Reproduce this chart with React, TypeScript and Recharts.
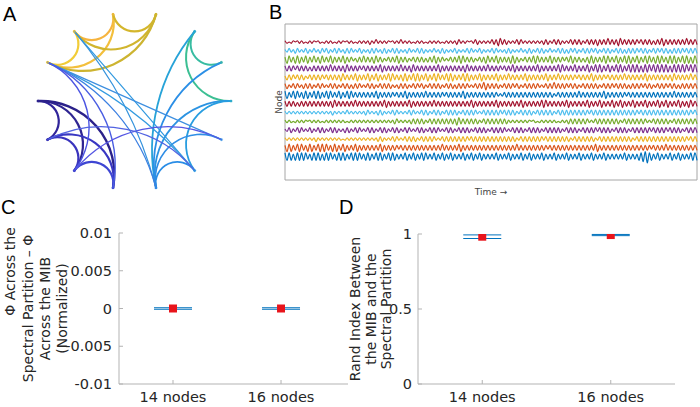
import {
  ScatterChart,
  Scatter,
  LineChart,
  Line,
  XAxis,
  YAxis,
  ZAxis,
  ErrorBar,
  ReferenceArea,
  Label,
} from "recharts";

const TEXT_FONT = "'DejaVu Sans', sans-serif";
const LETTER_FONT = "'Liberation Sans', Arial, sans-serif";

// ---- Panel A: circular graph (nodes numbered clockwise from the top) ----
const NODE_COLORS = [
  "#f5b942", "#d2b72d", "#22a5d5", "#3dbd9a", "#2db2bf", "#2f93e3", "#279ee0",
  "#2b88e8", "#3e52da", "#3c42d0", "#3632b3", "#2f2490", "#f4d23a", "#f5c43b",
];

// [from, to, color, width]
const EDGES: [number, number, string, number][] = [
  [12, 13, "#f1cc38", 2.2], [13, 0, "#f6b43f", 2.2], [12, 0, "#f3bf3c", 2.2],
  [0, 1, "#d4b62c", 2.2], [13, 1, "#d1b52e", 2.2], [12, 1, "#cdb430", 2.2],
  [11, 10, "#30249a", 2.2], [11, 9, "#2f2592", 2.2], [11, 8, "#2b218a", 2.4],
  [10, 9, "#3a34bd", 2.2], [10, 8, "#3937c2", 2.2], [9, 8, "#3e46d3", 2.2],
  [2, 3, "#38bca2", 2], [2, 4, "#3cbf93", 2], [2, 7, "#27a3d8", 1.8],
  [3, 7, "#2b8fe6", 1.8], [4, 7, "#2b93e2", 1.8], [4, 6, "#289de0", 1.8],
  [5, 7, "#2f8ee6", 1.6], [6, 7, "#2a8de6", 1.8],
  [13, 6, "#3199e0", 1.2], [13, 7, "#3593dd", 1.2], [12, 6, "#339ae0", 1.2],
  [12, 5, "#3d8fe0", 1.2], [12, 7, "#3c80e2", 1.2], [12, 9, "#4b54e2", 1.4],
  [12, 8, "#4a5de2", 1.4], [9, 5, "#5556e3", 1.2], [10, 6, "#5263e2", 1.2],
];

// ---- Panel B: node time series, top trace (node 14) to bottom (node 1) ----
const node14 = [
  1,-1,0,-1,1,0,1,-1,1,-1,0,-1,1,-1,1,0,1,-1,0,-1,
  1,-1,1,-1,0,-1,1,-1,1,0,1,-1,1,-1,0,-1,1,-1,1,-1,
  1,-2,1,-1,2,-1,1,-1,1,-1,1,0,1,-1,1,-1,2,-1,1,-1,
  1,-1,0,-1,1,-1,1,-1,0,-1,1,-1,1,-1,1,-1,0,-1,1,-1,
  1,-1,1,-2,2,-1,1,-1,1,0,1,-1,2,-2,1,-1,1,-1,1,-1,
  2,-2,2,-3,3,-2,2,-2,1,-1,1,-1,2,-2,2,-1,1,-1,1,-1,
  1,-1,1,-1,1,-2,2,-2,1,-1,2,-2,2,-2,1,-1,1,-1,2,-2,
  2,-2,2,-2,1,-1,2,-2,2,-2,2,-3,2,-2,2,-2,3,-2,2,-2,
  2,-3,3,-2,2,-2,2,-2,2,-2,2,-1,2,-2,2,-2,2,-2,1,-2,
  2,-2,3,-3,2,-2,2,-2,2,-2,2,-2,2,-2,3,-2,2,-2,2,-2,
];
const node13 = [
  1,-1,2,-1,1,-2,2,-1,1,-1,2,-2,1,-1,2,-1,1,-2,2,-1,
  2,-2,1,-1,2,-2,2,-1,1,-2,2,-2,2,-1,1,-1,2,-2,1,-1,
  1,-2,2,-2,2,-1,1,-2,2,-2,1,-1,2,-2,2,-2,1,-1,1,-2,
  2,-1,1,-1,2,-2,2,-2,1,-1,1,-1,2,-1,1,-2,2,-2,1,-1,
  1,-1,2,-2,1,-1,1,-1,2,-2,2,-1,1,-1,2,-2,1,-1,1,-1,
  2,-2,2,-1,1,-1,1,-2,2,-2,1,-1,1,-1,2,-1,1,-2,2,-2,
  1,-1,2,-2,2,-2,1,-1,2,-1,1,-1,2,-2,2,-2,1,-2,2,-1,
  2,-2,1,-1,2,-2,2,-2,2,-1,2,-2,1,-1,2,-2,2,-2,1,-1,
  2,-2,2,-2,1,-2,2,-2,2,-2,2,-1,2,-2,2,-2,1,-1,2,-2,
  2,-1,2,-2,2,-2,1,-2,2,-2,2,-2,2,-1,2,-2,2,-2,2,-2,
];
const node12 = [
  2,-3,3,-2,2,-3,3,-3,2,-2,3,-3,2,-2,3,-2,2,-3,3,-2,
  2,-2,3,-3,2,-2,2,-2,3,-3,2,-2,2,-1,1,-2,2,-2,3,-2,
  2,-2,2,-3,3,-2,2,-2,1,-1,2,-2,2,-2,3,-3,2,-2,2,-2,
  1,-1,2,-2,2,-2,2,-2,1,-2,2,-2,3,-3,2,-2,2,-1,1,-1,
  2,-2,2,-2,3,-3,3,-2,2,-2,2,-2,1,-1,2,-2,2,-3,3,-2,
  2,-2,3,-3,2,-2,2,-2,2,-3,3,-3,2,-2,1,-1,2,-2,2,-2,
  3,-3,3,-2,2,-2,2,-2,3,-3,2,-2,2,-2,2,-1,2,-2,3,-3,
  2,-2,2,-2,1,-2,2,-3,3,-3,2,-2,2,-2,3,-3,3,-2,2,-2,
  3,-3,2,-2,3,-3,3,-3,2,-2,3,-3,2,-2,3,-3,3,-2,2,-3,
  3,-3,3,-2,2,-3,3,-3,3,-3,2,-2,3,-3,3,-3,2,-3,3,-3,
];
const node11 = [
  2,-2,2,-2,2,-1,2,-2,2,-2,2,-2,1,-2,2,-2,2,-2,2,-2,
  2,-2,3,-2,2,-2,2,-2,2,-3,3,-2,2,-2,2,-2,2,-1,2,-2,
  2,-2,2,-2,2,-2,3,-3,2,-2,2,-2,2,-2,2,-2,3,-2,2,-2,
  2,-3,3,-2,2,-2,2,-2,2,-2,2,-2,2,-2,3,-3,2,-2,2,-2,
  2,-2,2,-2,2,-2,2,-3,3,-2,2,-2,2,-2,2,-2,2,-2,3,-2,
  2,-2,2,-2,2,-1,2,-2,2,-2,3,-3,2,-2,2,-2,2,-2,2,-2,
  2,-2,3,-3,2,-2,2,-2,2,-2,2,-2,3,-3,3,-2,2,-2,2,-2,
  3,-3,2,-2,2,-2,3,-3,2,-2,3,-3,3,-3,2,-2,3,-3,2,-2,
  3,-3,3,-3,2,-2,3,-3,3,-3,3,-3,2,-3,3,-3,3,-2,3,-3,
  3,-3,3,-3,3,-3,2,-3,3,-3,3,-3,3,-3,3,-2,3,-3,3,-3,
];
const node10 = [
  1,-2,2,-2,2,-1,2,-2,2,-2,1,-1,2,-2,2,-2,2,-2,2,-1,
  2,-2,2,-2,2,-2,2,-3,3,-2,2,-2,2,-2,3,-3,2,-2,2,-2,
  3,-3,2,-2,3,-3,2,-2,2,-2,3,-3,3,-2,2,-2,2,-3,3,-3,
  2,-2,3,-3,3,-3,2,-2,3,-3,2,-2,3,-3,3,-2,2,-2,3,-3,
  3,-3,2,-2,2,-2,3,-3,3,-3,2,-2,2,-2,3,-3,2,-2,2,-2,
  2,-2,3,-3,2,-2,2,-2,3,-2,2,-2,2,-2,2,-2,3,-3,2,-2,
  2,-2,2,-2,2,-2,3,-3,2,-2,2,-2,3,-2,2,-2,2,-2,2,-2,
  2,-1,2,-2,2,-2,2,-2,3,-3,2,-2,2,-2,2,-1,2,-2,2,-2,
  2,-2,2,-2,3,-2,2,-2,2,-2,2,-2,2,-2,3,-3,2,-2,2,-2,
  2,-2,2,-2,2,-2,2,-3,3,-2,2,-2,2,-2,2,-2,3,-2,2,-2,
];
const node9 = [
  2,-2,1,-1,2,-2,2,-1,1,-2,2,-2,2,-2,1,-1,2,-2,2,-1,
  1,-1,2,-2,2,-2,1,-1,2,-2,2,-2,1,-2,2,-2,2,-1,1,-1,
  2,-2,2,-2,1,-1,2,-2,2,-2,2,-2,1,-1,1,-2,2,-2,2,-2,
  1,-1,2,-2,2,-1,2,-2,1,-1,2,-2,2,-2,2,-2,1,-1,2,-2,
  2,-2,1,-2,2,-2,2,-2,2,-1,1,-1,2,-2,2,-2,3,-3,2,-2,
  2,-2,2,-2,1,-1,2,-2,2,-2,2,-1,2,-2,1,-1,2,-2,2,-2,
  2,-2,2,-1,1,-1,2,-2,2,-2,3,-2,2,-2,2,-2,2,-1,2,-2,
  2,-2,1,-1,2,-2,2,-2,2,-2,2,-2,1,-1,2,-2,2,-2,2,-1,
  2,-2,2,-2,2,-2,1,-2,2,-2,2,-2,2,-1,2,-2,2,-2,1,-1,
  2,-2,2,-2,2,-1,2,-2,2,-2,1,-2,2,-2,2,-2,2,-2,2,-2,
];
const node8 = [
  3,-3,2,-2,3,-3,3,-2,2,-3,3,-3,2,-2,3,-3,3,-3,2,-2,
  3,-3,3,-2,2,-2,3,-3,2,-2,3,-3,3,-2,2,-2,2,-2,2,-2,
  2,-2,2,-2,3,-3,2,-2,2,-2,2,-2,2,-1,2,-2,2,-2,3,-3,
  2,-2,2,-2,2,-2,2,-2,3,-2,2,-2,2,-2,2,-2,2,-1,2,-2,
  2,-2,2,-2,2,-2,3,-3,2,-2,2,-2,2,-2,2,-2,2,-2,2,-2,
  2,-2,2,-1,1,-1,2,-2,2,-2,2,-2,2,-2,2,-2,2,-2,2,-2,
  2,-2,2,-2,2,-2,2,-2,2,-2,1,-1,2,-2,2,-2,2,-2,2,-2,
  2,-2,3,-2,2,-2,2,-2,2,-2,2,-2,2,-2,3,-3,2,-2,2,-2,
  2,-2,2,-2,2,-1,2,-2,2,-2,2,-2,2,-2,2,-2,2,-2,2,-2,
  2,-2,2,-2,2,-2,2,-2,3,-2,2,-2,2,-2,2,-2,2,-2,2,-2,
];
const node7 = [
  2,-2,2,-2,2,-2,1,-2,2,-2,2,-2,2,-2,2,-2,2,-2,2,-2,
  2,-2,2,-3,3,-2,2,-2,2,-2,2,-2,2,-2,3,-2,2,-2,2,-2,
  2,-2,2,-2,2,-2,2,-2,3,-3,2,-2,2,-2,2,-2,2,-2,2,-2,
  3,-3,2,-2,2,-2,2,-2,2,-2,2,-2,3,-2,2,-2,2,-2,2,-2,
  2,-2,2,-2,2,-2,2,-2,2,-2,3,-3,2,-2,2,-2,2,-2,2,-2,
  2,-2,3,-3,2,-2,2,-2,2,-2,2,-2,2,-2,3,-3,2,-2,2,-2,
  2,-2,2,-2,3,-3,3,-2,2,-2,2,-2,2,-2,2,-2,3,-3,2,-2,
  2,-2,2,-2,2,-2,3,-3,2,-2,2,-2,3,-3,2,-2,2,-2,3,-3,
  2,-2,3,-3,2,-2,2,-2,3,-3,2,-2,2,-2,3,-3,2,-2,2,-2,
  3,-3,2,-2,3,-3,2,-2,2,-2,3,-3,2,-2,2,-3,3,-2,2,-2,
];
const node6 = [
  1,-1,1,-1,1,-1,1,-1,1,-1,1,-1,1,-1,1,-1,1,-1,1,-1,
  1,-1,1,-2,1,-1,1,-1,1,-1,2,-1,1,-1,1,-1,1,-1,1,-2,
  2,-1,1,-1,1,-2,2,-2,1,-1,1,-1,2,-2,2,-1,1,-1,1,-1,
  2,-2,2,-1,1,-1,2,-2,2,-2,1,-1,2,-2,2,-2,1,-1,2,-2,
  2,-2,2,-2,1,-1,2,-2,2,-2,2,-2,2,-1,1,-1,2,-2,2,-2,
  2,-2,2,-2,2,-1,2,-2,2,-2,2,-2,1,-1,2,-2,2,-2,2,-2,
  1,-1,2,-2,2,-2,2,-2,2,-2,1,-1,2,-2,2,-2,2,-2,2,-2,
  2,-2,2,-2,2,-2,2,-1,2,-2,2,-2,2,-2,2,-2,2,-2,2,-2,
  2,-2,2,-2,2,-2,2,-2,2,-2,2,-1,2,-2,2,-2,2,-2,2,-2,
  2,-2,2,-2,2,-2,2,-2,2,-2,2,-2,2,-2,2,-2,2,-1,2,-2,
];
const node5 = [
  1,-1,1,-1,0,-1,1,-1,1,-1,1,0,1,-1,1,-1,1,-1,0,-1,
  1,-1,1,-1,1,-1,1,-1,1,-1,0,-1,1,-1,1,-1,1,-1,1,-1,
  1,-1,1,-1,1,-1,1,-1,1,-1,1,-1,1,-2,2,-1,1,-1,1,-1,
  1,-2,2,-2,2,-2,2,-2,1,-1,2,-2,2,-2,2,-2,2,-2,2,-2,
  2,-2,2,-3,3,-2,2,-2,2,-2,2,-2,2,-2,1,-1,2,-2,2,-2,
  2,-2,2,-2,2,-2,2,-2,1,-1,1,-1,1,-1,1,-1,1,-1,1,0,
  1,-1,0,-1,1,-1,1,-1,1,-1,1,-1,0,-1,1,-1,1,-2,2,-2,
  2,-2,2,-2,2,-2,2,-1,1,-1,2,-2,2,-2,2,-2,2,-2,2,-2,
  2,-2,1,-1,2,-2,2,-2,2,-2,2,-2,2,-2,2,-1,1,-1,2,-2,
  2,-2,2,-2,2,-2,1,-1,2,-2,2,-2,2,-2,2,-2,2,-2,2,-2,
];
const node4 = [
  1,-1,2,-2,1,-1,2,-2,2,-1,1,-1,2,-2,1,-1,2,-2,2,-2,
  1,-1,2,-2,2,-2,1,-1,1,-2,2,-2,1,-1,2,-2,2,-1,1,-1,
  2,-2,2,-2,1,-1,2,-2,2,-2,1,-1,2,-2,2,-2,1,-1,2,-2,
  2,-1,1,-1,2,-2,2,-2,1,-1,2,-2,2,-2,2,-1,1,-1,2,-2,
  2,-2,1,-1,2,-2,2,-2,2,-2,1,-1,2,-2,2,-2,2,-2,1,-1,
  2,-2,2,-2,2,-2,2,-1,1,-1,2,-2,2,-2,2,-2,1,-1,2,-2,
  2,-2,2,-2,1,-1,2,-2,2,-2,2,-2,2,-2,1,-1,2,-2,2,-2,
  2,-2,1,-1,2,-2,2,-2,2,-2,2,-1,2,-2,2,-2,2,-2,1,-1,
  2,-2,2,-2,2,-2,1,-1,2,-2,2,-2,2,-2,2,-2,2,-1,2,-2,
  2,-2,2,-2,2,-1,2,-2,2,-2,2,-2,1,-1,2,-2,2,-2,2,-2,
];
const node3 = [
  1,-1,1,-1,1,-1,1,-1,1,-1,1,-1,1,-1,1,-2,1,-1,1,-1,
  1,-1,1,-1,1,-1,1,-1,0,-1,1,-1,1,-1,1,-1,1,-1,1,-1,
  1,-1,1,-1,1,-2,2,-2,1,-1,1,-1,2,-2,2,-1,1,-1,2,-2,
  2,-2,2,-2,1,-1,2,-2,2,-2,2,-2,2,-1,1,-1,2,-2,2,-2,
  2,-2,2,-2,2,-2,2,-2,2,-1,2,-2,2,-2,2,-2,2,-2,2,-2,
  2,-2,2,-2,2,-2,2,-2,2,-2,2,-2,1,-1,2,-2,2,-2,2,-2,
  2,-2,2,-2,2,-1,2,-2,2,-2,2,-2,2,-2,2,-2,2,-2,1,-1,
  2,-2,2,-2,2,-2,2,-2,2,-2,1,-1,2,-2,2,-2,2,-2,2,-2,
  2,-2,2,-2,2,-2,2,-2,1,-1,2,-2,2,-2,2,-2,2,-2,2,-2,
  2,-2,2,-2,2,-2,2,-2,2,-2,2,-2,2,-2,2,-1,2,-2,2,-2,
];
const node2 = [
  2,-3,3,-3,2,-2,3,-3,3,-2,2,-3,3,-3,2,-2,3,-3,3,-3,
  3,-2,2,-3,3,-3,2,-2,3,-3,2,-2,2,-2,3,-3,2,-2,2,-2,
  2,-2,2,-2,2,-2,3,-3,2,-2,2,-2,2,-2,2,-1,2,-2,2,-2,
  2,-2,2,-2,2,-2,2,-2,2,-2,2,-2,2,-2,2,-2,3,-2,2,-2,
  2,-2,2,-2,3,-3,2,-2,2,-2,2,-2,2,-2,2,-2,2,-2,2,-2,
  2,-2,2,-2,2,-2,2,-2,2,-2,2,-2,3,-2,2,-2,2,-2,2,-2,
  2,-2,2,-2,2,-2,2,-1,2,-2,2,-2,2,-2,2,-2,2,-2,2,-2,
  2,-2,2,-2,2,-2,2,-2,2,-2,3,-3,2,-2,2,-2,2,-2,2,-2,
  2,-2,2,-2,2,-2,2,-2,2,-2,2,-2,2,-2,2,-2,2,-1,2,-2,
  2,-2,2,-2,3,-2,2,-2,2,-2,2,-2,2,-2,2,-2,2,-2,2,-2,
];
const node1 = [
  3,-3,3,-3,2,-3,3,-3,3,-3,3,-2,2,-3,3,-3,3,-3,2,-3,
  3,-3,3,-2,2,-3,3,-3,3,-3,2,-2,3,-3,3,-3,3,-2,2,-3,
  3,-3,2,-2,3,-3,3,-3,2,-2,3,-3,3,-3,2,-2,2,-2,3,-3,
  2,-2,3,-3,2,-2,3,-3,3,-2,2,-2,3,-3,2,-2,3,-3,2,-2,
  3,-3,2,-2,2,-2,3,-3,2,-2,3,-3,2,-2,3,-3,2,-2,2,-2,
  2,-2,3,-3,2,-2,2,-2,3,-3,2,-2,2,-2,3,-3,2,-2,3,-3,
  2,-2,2,-2,3,-3,2,-2,2,-2,3,-3,2,-2,2,-2,3,-3,2,-2,
  2,-2,3,-3,2,-2,2,-2,3,-3,2,-2,2,-2,3,-3,2,-2,2,-2,
  2,-2,2,-2,3,-3,2,-2,2,-2,2,-3,3,-4,4,-5,3,-3,2,-2,
  3,-3,2,-2,2,-2,3,-3,2,-2,3,-3,2,-2,2,-2,3,-3,3,-3,
];
const TRACES = [
  node1, node2, node3, node4, node5, node6, node7,
  node8, node9, node10, node11, node12, node13, node14,
];
const TRACE_COLORS = ["#0072BD", "#D95319", "#EDB120", "#7E2F8E", "#77AC30", "#4DBEEE", "#A2142F"];

// ---- Panels C and D ----
const CATEGORIES = ["14 nodes", "16 nodes"];
const PHI_DIFF = [0, 0];
const PHI_ERR = [0.0001, 0.0001];
const PHI_TICKS = [-0.01, -0.005, 0, 0.005, 0.01];
const RAND_INDEX = [0.982, 0.993];
const RAND_ERR = [0.012, 0.004];
const RAND_TICKS = [0, 0.5, 1];

const N_NODES = NODE_COLORS.length;
const TRACE_GAP = 7;
const B_DOMAIN: [number, number] = [-18.5, 105.3];
const AXIS_GRAY = "#b3b3b3";
const INK = "#262626";

const nodePoint = (k: number) => {
  const a = Math.PI / 2 + Math.PI / N_NODES - (2 * Math.PI * k) / N_NODES;
  return { x: Math.cos(a), y: Math.sin(a) };
};

// geodesic-style arc between two nodes, bowing toward the centre
const edgeLine = (steps: number, color: string, width: number) => (props: any) => {
  const pts = props.points || [];
  if (pts.length < 2) return <g />;
  const [p, q] = pts;
  const chord = Math.hypot(q.x - p.x, q.y - p.y);
  const c = Math.cos((steps * Math.PI) / N_NODES);
  const r = chord / (2 * Math.max(c, 0.0001));
  const d =
    c < 0.01
      ? `M${p.x},${p.y}L${q.x},${q.y}`
      : `M${p.x},${p.y}A${r},${r} 0 0 0 ${q.x},${q.y}`;
  return <path d={d} fill="none" stroke={color} strokeWidth={width} strokeLinecap="round" />;
};

const nodeDot = (props: any) => (
  <circle cx={props.cx} cy={props.cy} r={1.6} fill={NODE_COLORS[props.index] ?? "#9ab"} fillOpacity={0.55} />
);

const CircleGraph = () => {
  const nodes = NODE_COLORS.map((_, k) => nodePoint(k));
  return (
    <ScatterChart width={203} height={188} margin={{ top: 5, right: 5, bottom: 5, left: 5 }}>
      <XAxis type="number" dataKey="x" domain={[-1, 1]} hide />
      <YAxis type="number" dataKey="y" domain={[-1, 1]} hide />
      <ZAxis range={[10, 10]} />
      {EDGES.map(([a, b, color, w], i) => {
        let from = a;
        let to = b;
        let steps = (b - a + N_NODES) % N_NODES;
        if (steps > N_NODES / 2) {
          from = b;
          to = a;
          steps = N_NODES - steps;
        }
        return (
          <Scatter
            key={`edge-${i}`}
            data={[nodePoint(from), nodePoint(to)]}
            line={edgeLine(steps, color, w)}
            shape={() => <g />}
            isAnimationActive={false}
          />
        );
      })}
      <Scatter data={nodes} shape={nodeDot} isAnimationActive={false} />
    </ScatterChart>
  );
};

const TimeSeries = () => {
  const rows = node1.map((_, t) => {
    const row: Record<string, number> = { t };
    TRACES.forEach((s, k) => {
      row[`n${k + 1}`] = k * TRACE_GAP + (s[t] ?? 0);
    });
    return row;
  });
  const last = rows.length - 1;
  return (
    <LineChart width={425} height={177} data={rows} margin={{ top: 1, right: 1, bottom: 0, left: 0 }}>
      <XAxis type="number" dataKey="t" domain={[0, last]} tick={false} tickLine={false} axisLine={false} height={20}>
        <Label value="Time →" position="center" dy={2} fontSize={9} fill="#444" fontFamily={TEXT_FONT} />
      </XAxis>
      <YAxis type="number" domain={B_DOMAIN} tick={false} tickLine={false} axisLine={false} width={12}>
        <Label value="Node" angle={-90} position="center" fontSize={9} fill="#444" fontFamily={TEXT_FONT} />
      </YAxis>
      <ReferenceArea x1={0} x2={last} y1={B_DOMAIN[0]} y2={B_DOMAIN[1]} fill="none" stroke="#a6a6a6" strokeWidth={1} />
      {TRACES.map((_, k) => (
        <Line
          key={`trace-${k}`}
          dataKey={`n${k + 1}`}
          type="monotone"
          stroke={TRACE_COLORS[k % TRACE_COLORS.length]}
          strokeWidth={1.2}
          dot={false}
          isAnimationActive={false}
        />
      ))}
    </LineChart>
  );
};

const stackedLabel =
  (lines: { text: string; dx: number; dy: number }[], fallback: any) => (props: any) => {
    const vb = props && props.viewBox && props.viewBox.height ? props.viewBox : fallback;
    const cy = vb.y + vb.height / 2;
    return (
      <g>
        {lines.map((l, i) => (
          <text
            key={i}
            transform={`translate(${vb.x + l.dx},${cy + l.dy}) rotate(-90)`}
            textAnchor="middle"
            dominantBaseline="central"
            fontSize={14}
            fontFamily={TEXT_FONT}
            fill={INK}
          >
            {l.text}
          </text>
        ))}
      </g>
    );
  };

const tickStyle = { fill: INK, fontSize: 14.5, fontFamily: TEXT_FONT };
const noTick = () => <g />;

interface IErrorPanel {
  values: number[];
  errors: number[];
  ticks: number[];
  xDomain: [number, number];
  yDomain: [number, number];
  yAxisWidth: number;
  margin: { top: number; right: number; bottom: number; left: number };
  yTickMargin: number;
  label: (props: any) => any;
}

const ErrorPanel = ({ values, errors, ticks, xDomain, yDomain, yAxisWidth, margin, yTickMargin, label }: IErrorPanel) => {
  const rows = CATEGORIES.map((_, i) => ({ x: i + 1, y: values[i], err: errors[i] }));
  const xTicks = CATEGORIES.map((_, i) => i + 1);
  return (
    <ScatterChart width={360} height={187} margin={margin}>
      <XAxis
        type="number"
        dataKey="x"
        domain={xDomain}
        ticks={xTicks}
        allowDataOverflow
        tickFormatter={(v: number) => CATEGORIES[v - 1] ?? ""}
        height={23}
        stroke={AXIS_GRAY}
        tickSize={-4}
        tickMargin={12}
        tick={tickStyle}
      />
      <XAxis xAxisId="top" orientation="top" type="number" domain={xDomain} ticks={xTicks} allowDataOverflow height={0} stroke={AXIS_GRAY} tickSize={-4} tick={noTick} />
      <YAxis
        type="number"
        dataKey="y"
        domain={yDomain}
        ticks={ticks}
        allowDataOverflow
        tickFormatter={(v: number) => String(v)}
        width={yAxisWidth}
        stroke={AXIS_GRAY}
        tickSize={-4}
        tickMargin={yTickMargin}
        tick={tickStyle}
        label={label}
      />
      <YAxis yAxisId="right" orientation="right" type="number" domain={yDomain} ticks={ticks} allowDataOverflow width={0} stroke={AXIS_GRAY} tickSize={-4} tick={noTick} />
      <ZAxis range={[88, 88]} />
      <Scatter data={rows} fill="#e8141b" shape="square" isAnimationActive={false}>
        <ErrorBar dataKey="err" direction="y" width={19} stroke="#0072BD" strokeWidth={1} />
      </Scatter>
    </ScatterChart>
  );
};

const letter = (text: string, left: number, top: number) => (
  <div
    style={{
      position: "absolute",
      left,
      top,
      fontFamily: LETTER_FONT,
      fontSize: 20,
      lineHeight: 1,
      color: "#000",
    }}
  >
    {text}
  </div>
);

const App = () => {
  return (
    <div style={{ position: "absolute", left: 0, top: 0, width: 700, height: 407, background: "#fff", overflow: "hidden" }}>
      <div style={{ position: "absolute", left: 33, top: 7 }}>
        <CircleGraph />
      </div>
      <div style={{ position: "absolute", left: 273, top: 23 }}>
        <TimeSeries />
      </div>
      <div style={{ position: "absolute", left: 0, top: 220 }}>
        <ErrorPanel
          values={PHI_DIFF}
          errors={PHI_ERR}
          ticks={PHI_TICKS}
          xDomain={[0.5, 2.62]}
          yDomain={[-0.01, 0.01]}
          yAxisWidth={119}
          margin={{ top: 13, right: 12, bottom: 0, left: 0 }}
          yTickMargin={11}
          label={stackedLabel(
            [
              { text: "Φ Across the", dx: 10, dy: -37 },
              { text: "Spectral Partition – Φ", dx: 28, dy: 0 },
              { text: "Across the MIB", dx: 45, dy: 0 },
              { text: "(Normalized)", dx: 62, dy: 0 },
            ],
            { x: 0, y: 13, width: 119, height: 151 }
          )}
        />
      </div>
      <div style={{ position: "absolute", left: 340, top: 220 }}>
        <ErrorPanel
          values={RAND_INDEX}
          errors={RAND_ERR}
          ticks={RAND_TICKS}
          xDomain={[0.5, 2.5]}
          yDomain={[0, 1]}
          yAxisWidth={78}
          margin={{ top: 14, right: 25, bottom: 0, left: 0 }}
          yTickMargin={10}
          label={stackedLabel(
            [
              { text: "Rand Index Between", dx: 15, dy: 0 },
              { text: "the MIB and the", dx: 30.5, dy: 0 },
              { text: "Spectral Partition", dx: 46, dy: 0 },
            ],
            { x: 0, y: 14, width: 78, height: 150 }
          )}
        />
      </div>
      {letter("A", 3, 4)}
      {letter("B", 269, 2)}
      {letter("C", 1, 197)}
      {letter("D", 339, 197)}
    </div>
  );
};

export default App;
